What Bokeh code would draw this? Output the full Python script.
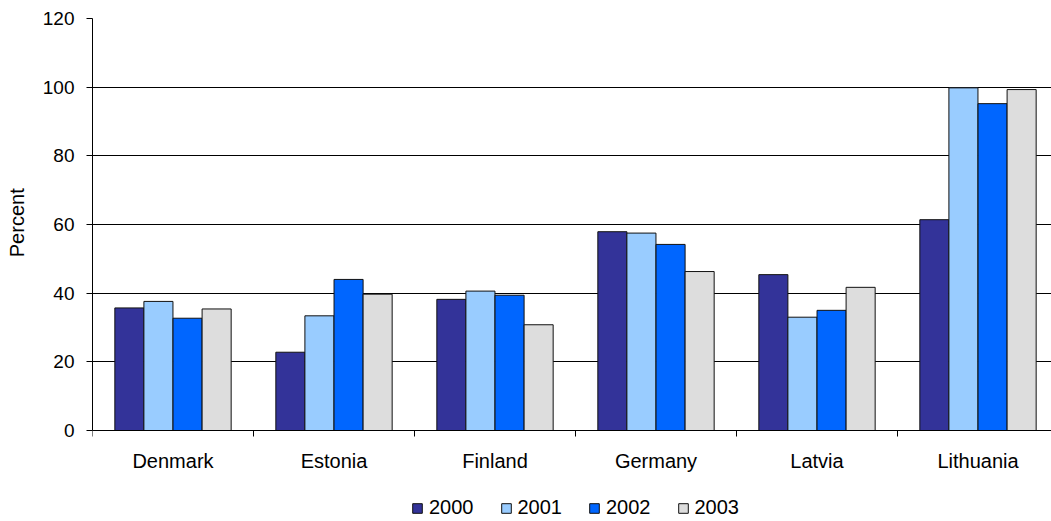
import numpy as np
from bokeh.plotting import figure
from bokeh.models import Range1d, FixedTicker, Legend, LegendItem
from bokeh.embed import file_html
from bokeh.resources import INLINE

countries = ["Denmark", "Estonia", "Finland", "Germany", "Latvia", "Lithuania"]
years = ["2000", "2001", "2002", "2003"]
v2000 = [35.7, 22.8, 38.2, 57.9, 45.4, 61.4]
v2001 = [37.6, 33.4, 40.6, 57.5, 33.0, 99.8]
v2002 = [32.7, 44.0, 39.4, 54.2, 35.0, 95.2]
v2003 = [35.4, 39.7, 30.8, 46.3, 41.7, 99.3]
series = [v2000, v2001, v2002, v2003]
colors = ["#333399", "#99CCFF", "#0066FF", "#DDDDDD"]
y_ticks = [0, 20, 40, 60, 80, 100, 120]

FONT = "Liberation Sans"

# frame spans from y=18 to the bottom of the page; value 0 sits at y=430
px_per_unit = 412 / 120
y_min = -(521 - 430) / px_per_unit

p = figure(width=1051, height=521, output_backend="svg", toolbar_location=None,
           x_range=Range1d(0, 959 / 161), y_range=Range1d(y_min, 120),
           min_border_left=92, min_border_right=0, min_border_top=18, min_border_bottom=0)
p.outline_line_color = None
p.background_fill_color = "white"
p.border_fill_color = "white"

idx = np.arange(len(countries)) + 0.5
offsets = [-0.271, -0.0905, 0.0905, 0.271]
renderers = []
for vals, col, off in zip(series, colors, offsets):
    r = p.vbar(x=idx + off, top=vals, width=0.1805, bottom=0, fill_color=col,
               line_color="#111111", line_width=1)
    renderers.append(r)

# x axis, pinned at value 0
xa = p.xaxis[0]
xa.fixed_location = 0
xa.ticker = FixedTicker(ticks=list(idx), minor_ticks=list(range(len(countries) + 1)))
xa.major_label_overrides = {float(x): c for x, c in zip(idx, countries)}
xa.major_tick_out = 0
xa.major_tick_in = 0
xa.minor_tick_out = 6
xa.minor_tick_in = 0
xa.minor_tick_line_color = "black"
xa.axis_line_color = "black"
xa.major_label_text_font = FONT
xa.major_label_text_font_size = "20px"
xa.major_label_text_color = "black"
xa.major_label_standoff = 13

ya = p.yaxis[0]
ya.bounds = (0, 120)
ya.ticker = FixedTicker(ticks=y_ticks)
ya.major_tick_out = 6
ya.major_tick_in = 0
ya.minor_tick_out = 0
ya.minor_tick_in = 0
ya.axis_line_color = "black"
ya.major_tick_line_color = "black"
ya.major_label_text_font = FONT
ya.major_label_text_font_size = "19px"
ya.major_label_text_color = "black"
ya.major_label_standoff = 12
# leading no-break spaces lift the label to the centre of the 0-120 span
ya.axis_label = "\u00a0" * 17 + "Percent"
ya.axis_label_text_font = FONT
ya.axis_label_text_font_size = "20px"
ya.axis_label_text_font_style = "normal"
ya.axis_label_text_color = "black"
ya.axis_label_standoff = 12

p.xgrid.grid_line_color = None
p.ygrid.grid_line_color = "black"
p.ygrid.grid_line_width = 1
p.ygrid.ticker = FixedTicker(ticks=y_ticks)

legend = Legend(items=[LegendItem(label=y, renderers=[r]) for y, r in zip(years, renderers)],
                orientation="horizontal", location=(319, 2))
legend.glyph_width = 12
legend.glyph_height = 12
legend.label_standoff = 6
legend.spacing = 26
legend.padding = 0
legend.margin = 0
legend.border_line_color = None
legend.background_fill_alpha = 0
legend.label_text_font = FONT
legend.label_text_font_size = "20px"
legend.label_text_color = "black"
legend.label_height = 14
p.add_layout(legend, "center")

open("out.html", "w").write(file_html(p, INLINE))
